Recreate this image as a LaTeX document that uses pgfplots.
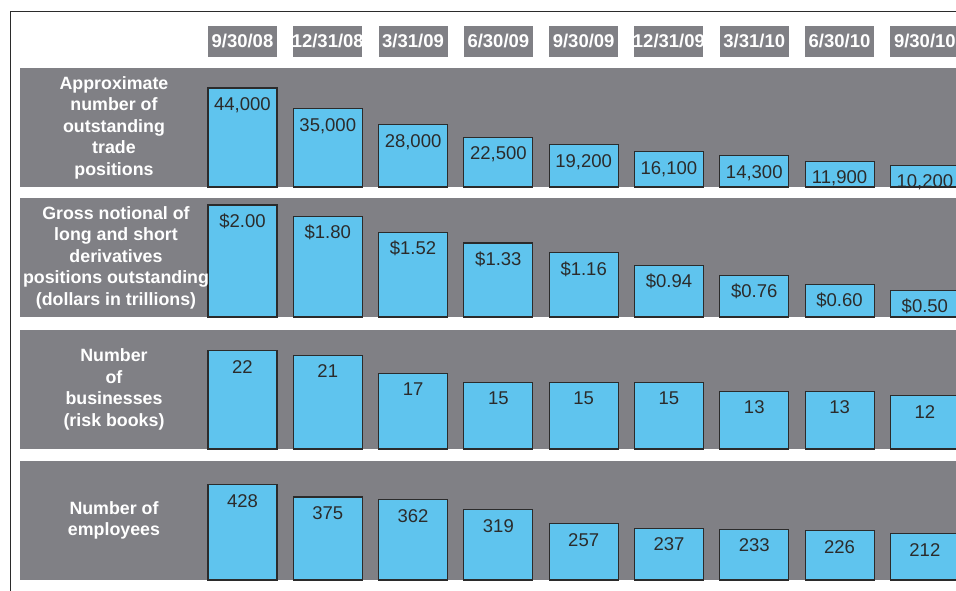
\documentclass[border=0pt]{standalone}
\usepackage{fontspec}
\setmainfont{Liberation Sans}
\usepackage{pgfplots}
\pgfplotsset{compat=1.18}

\definecolor{bandgray}{HTML}{808085}
\definecolor{barblue}{HTML}{5FC4EE}
\definecolor{edge}{HTML}{2B2B2B}

\newcommand{\dl}[1]{\makebox[0pt]{#1}}

\pgfplotsset{
  band/.style={
    scale only axis, width=940pt, height=119pt,
    anchor=south west,
    xmin=-2.608, xmax=8.412,
    enlargelimits=false,
    clip=false,
    axis line style={draw=none},
    major tick length=0pt,
    ytick=\empty, xtick=\empty,
    axis background/.style={fill=bandgray},
    /pgf/number format/assume math mode=true,
    nodes near coords style={anchor=north, inner sep=0pt, yshift=-9pt,
      text height=13pt, text=edge, font=\fontsize{18.5}{20}\selectfont},
  },
  bars/.style={ybar, bar width=0.809, fill=barblue, draw=edge, line width=1.1pt},
}

\begin{document}
\begin{tikzpicture}
\useasboundingbox (0pt,0pt) rectangle (956pt,590pt);

% band 1: trade positions
\begin{axis}[band, at={(20pt,403pt)}, ymin=657, ymax=52755,
    xtick={0,...,8}, xticklabel pos=upper,
    xticklabels={\dl{9/30/08},\dl{12/31/08},\dl{3/31/09},\dl{6/30/09},\dl{9/30/09},
                 \dl{12/31/09},\dl{3/31/10},\dl{6/30/10},\dl{9/30/10}},
    xticklabel style={fill=bandgray, minimum width=69pt, minimum height=31pt,
      inner sep=0pt, anchor=south, yshift=11pt, text=white,
      font=\bfseries\fontsize{18.5}{20}\selectfont},
    nodes near coords={\pgfmathprintnumber[fixed,precision=0,1000 sep={,}]{\pgfplotspointmeta}}]
  \addplot[bars] coordinates {(0,44000) (1,35000) (2,28000) (3,22500) (4,19200)
                              (5,16100) (6,14300) (7,11900) (8,10200)};
\end{axis}

% band 2: gross notional
\begin{axis}[band, at={(20pt,273pt)}, ymin=0.0264, ymax=2.123,
    nodes near coords={\$\pgfmathprintnumber[fixed,fixed zerofill,precision=2]{\pgfplotspointmeta}}]
  \addplot[bars] coordinates {(0,2.00) (1,1.80) (2,1.52) (3,1.33) (4,1.16)
                              (5,0.94) (6,0.76) (7,0.60) (8,0.50)};
\end{axis}

% band 3: businesses
\begin{axis}[band, at={(20pt,141pt)}, ymin=0.22, ymax=26.6,
    nodes near coords={\pgfmathprintnumber[fixed,precision=0]{\pgfplotspointmeta}}]
  \addplot[bars] coordinates {(0,22) (1,21) (2,17) (3,15) (4,15)
                              (5,15) (6,13) (7,13) (8,12)};
\end{axis}

% band 4: employees
\begin{axis}[band, at={(20pt,10pt)}, ymin=8.8, ymax=533.6,
    nodes near coords={\pgfmathprintnumber[fixed,precision=0]{\pgfplotspointmeta}}]
  \addplot[bars] coordinates {(0,428) (1,375) (2,362) (3,319) (4,257)
                              (5,237) (6,233) (7,226) (8,212)};
\end{axis}

% row titles
\begin{scope}[every node/.style={text=white, align=center,
    font=\bfseries\fontsize{17.8}{21.5}\selectfont}]
  \node at (114pt,462.5pt) {Approximate\\number of\\outstanding\\trade\\positions};
  \node at (116pt,332.5pt) {Gross notional of\\long and short\\derivatives\\positions outstanding\\(dollars in trillions)};
  \node at (114pt,200.5pt) {Number\\of\\businesses\\(risk books)};
  \node at (114pt,69.5pt) {Number of\\employees};
\end{scope}

% frame lines
\draw[edge, line width=1pt] (960pt,578pt) -- (10.5pt,578pt) -- (10.5pt,-2pt);
\end{tikzpicture}
\end{document}
